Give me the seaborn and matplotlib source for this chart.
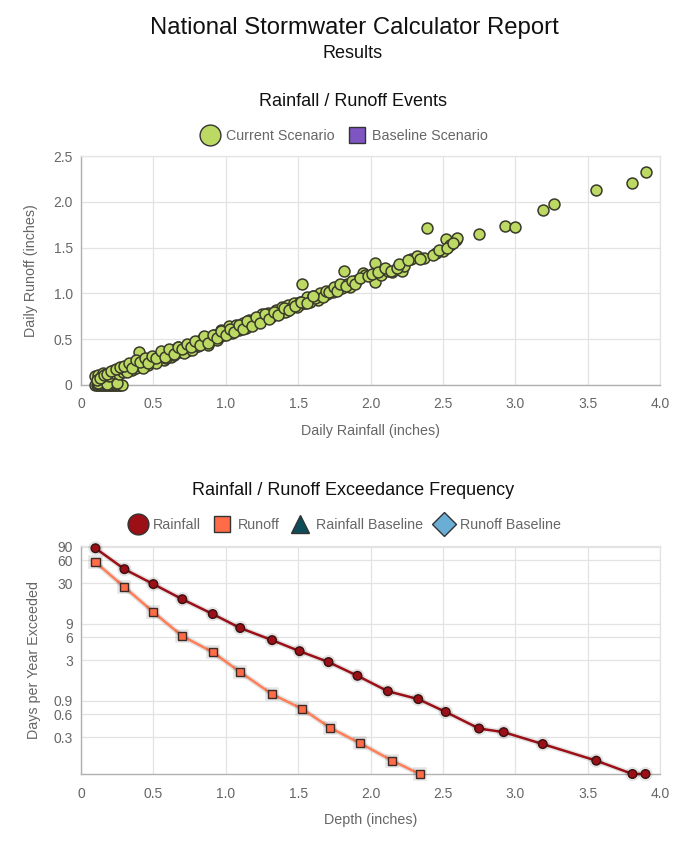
import matplotlib
matplotlib.use("Agg")
import matplotlib.pyplot as plt
import matplotlib.patheffects as pe
from matplotlib.lines import Line2D
from matplotlib.ticker import FixedLocator, FixedFormatter, NullLocator
import seaborn as sns
import pandas as pd

# ---------------- data ----------------
# Top chart: daily rainfall vs daily runoff (inches), current scenario
rain_events = [
    0.10, 0.11, 0.12, 0.13, 0.14, 0.15, 0.16, 0.17, 0.18, 0.19, 0.20, 0.21, 0.22, 0.23,
    0.24, 0.25, 0.26, 0.27, 0.28, 0.12, 0.18, 0.25,
    0.10, 0.12, 0.14, 0.15, 0.17, 0.19, 0.20, 0.22, 0.23, 0.25, 0.26, 0.28, 0.29, 0.30,
    0.31, 0.33, 0.34, 0.35, 0.36, 0.38, 0.39, 0.40, 0.41, 0.42, 0.44, 0.45, 0.46, 0.48,
    0.49, 0.50, 0.51, 0.53, 0.54, 0.56, 0.57, 0.58, 0.60, 0.61, 0.62, 0.63, 0.65, 0.66,
    0.68, 0.69, 0.70, 0.72, 0.73, 0.75, 0.76, 0.78, 0.79, 0.80, 0.82, 0.83, 0.85, 0.86,
    0.87, 0.88, 0.90, 0.91, 0.93, 0.95, 0.96, 0.98, 1.00, 1.01, 1.03, 1.05, 1.06, 1.08,
    1.10, 1.11, 1.13, 1.15, 1.17, 1.19, 1.20, 1.22, 1.24, 1.26, 1.28, 1.30, 1.32, 1.34,
    1.36, 1.38, 1.40, 1.42, 1.44, 1.46, 1.48, 1.50, 1.52, 1.53, 1.55, 1.57, 1.59, 1.61,
    1.63, 1.64, 1.66, 1.68, 1.70, 1.72, 1.74, 1.76, 1.78, 1.80, 1.81, 1.82, 1.84, 1.86,
    1.88, 1.91, 1.95, 1.96, 2.03, 2.03, 2.07, 2.12, 2.15, 2.22, 2.23, 2.28, 2.32, 2.37,
    2.39, 2.45, 2.50, 2.52, 2.55, 2.59, 2.60, 2.75, 2.93, 3.00, 3.19, 3.27, 3.56, 3.81,
    3.90,
    0.32, 0.37, 0.43, 0.47, 0.52, 0.55, 0.59, 0.64, 0.67, 0.71, 0.74, 0.77, 0.81, 0.84,
    0.89, 0.92, 0.94, 0.97, 0.99, 1.02, 1.04, 1.07, 1.09, 1.12, 1.14, 1.16, 1.18, 1.21,
    1.23, 1.25, 1.27, 1.29, 1.31, 1.33, 1.35, 1.37, 1.39, 1.41, 1.43, 1.45, 1.47, 1.49,
    1.51, 1.54, 1.56, 1.58, 1.60, 1.62, 1.65, 1.67, 1.69, 1.71, 1.75, 1.77, 1.79, 1.83,
    1.87, 1.89, 1.93, 1.98, 2.01, 2.05, 2.10, 2.14, 2.18, 2.20, 2.26, 2.34, 2.43, 2.47,
    2.53, 2.57,
    0.11, 0.13, 0.16, 0.18, 0.21, 0.24, 0.27, 0.30, 0.33, 0.35, 0.38, 0.41, 0.44, 0.46,
    0.49, 0.52, 0.55, 0.58, 0.61, 0.64, 0.67, 0.70, 0.73, 0.76, 0.79, 0.82, 0.85, 0.88,
    0.91, 0.94, 0.97, 1.00, 1.03, 1.06, 1.09, 1.12, 1.15, 1.18, 1.21, 1.24, 1.27, 1.30,
    1.33, 1.36, 1.40, 1.44, 1.48, 1.52, 1.56, 1.60,
]
runoff_events = [
    0.00, 0.00, 0.00, 0.00, 0.00, 0.00, 0.00, 0.00, 0.00, 0.00, 0.00, 0.00, 0.00, 0.00,
    0.00, 0.00, 0.00, 0.00, 0.00, 0.02, 0.01, 0.02,
    0.10, 0.11, 0.09, 0.13, 0.12, 0.10, 0.14, 0.13, 0.16, 0.15, 0.12, 0.17, 0.14, 0.18,
    0.16, 0.20, 0.17, 0.16, 0.21, 0.19, 0.23, 0.36, 0.21, 0.24, 0.22, 0.26, 0.22, 0.27,
    0.25, 0.30, 0.27, 0.29, 0.32, 0.30, 0.27, 0.34, 0.33, 0.36, 0.31, 0.38, 0.35, 0.37,
    0.36, 0.40, 0.38, 0.41, 0.37, 0.43, 0.40, 0.45, 0.42, 0.47, 0.45, 0.49, 0.47, 0.51,
    0.49, 0.44, 0.52, 0.50, 0.54, 0.52, 0.56, 0.57, 0.60, 0.58, 0.62, 0.59, 0.63, 0.61,
    0.65, 0.63, 0.67, 0.66, 0.69, 0.71, 0.68, 0.72, 0.74, 0.72, 0.76, 0.77, 0.76, 0.80,
    0.79, 0.82, 0.83, 0.81, 0.85, 0.87, 0.86, 0.89, 0.88, 1.10, 0.89, 0.93, 0.95, 0.94,
    0.97, 0.93, 0.98, 1.00, 0.99, 1.03, 1.02, 1.05, 1.07, 1.06, 1.09, 1.24, 1.10, 1.07,
    1.12, 1.15, 1.22, 1.20, 1.33, 1.12, 1.20, 1.25, 1.23, 1.25, 1.30, 1.38, 1.41, 1.39,
    1.71, 1.44, 1.46, 1.59, 1.53, 1.58, 1.60, 1.65, 1.74, 1.72, 1.91, 1.98, 2.13, 2.21,
    2.32,
    0.14, 0.24, 0.19, 0.29, 0.24, 0.35, 0.29, 0.33, 0.41, 0.35, 0.44, 0.38, 0.43, 0.51,
    0.48, 0.55, 0.49, 0.60, 0.55, 0.64, 0.57, 0.66, 0.60, 0.68, 0.62, 0.71, 0.66, 0.73,
    0.70, 0.77, 0.73, 0.79, 0.74, 0.78, 0.82, 0.77, 0.85, 0.80, 0.87, 0.84, 0.90, 0.85,
    0.91, 0.92, 0.96, 0.91, 0.97, 0.95, 1.00, 0.96, 1.03, 1.01, 1.07, 1.03, 1.10, 1.08,
    1.13, 1.10, 1.17, 1.19, 1.21, 1.23, 1.28, 1.24, 1.28, 1.32, 1.36, 1.38, 1.42, 1.47,
    1.50, 1.55,
    0.06, 0.08, 0.11, 0.12, 0.15, 0.17, 0.20, 0.21, 0.24, 0.19, 0.27, 0.25, 0.29, 0.24,
    0.32, 0.29, 0.37, 0.31, 0.39, 0.34, 0.42, 0.39, 0.45, 0.41, 0.48, 0.44, 0.53, 0.46,
    0.55, 0.51, 0.59, 0.55, 0.61, 0.58, 0.66, 0.61, 0.70, 0.64, 0.74, 0.68, 0.77, 0.72,
    0.80, 0.76, 0.84, 0.82, 0.86, 0.91, 0.90, 0.97,
]

# Bottom chart: exceedance frequency (days per year exceeded vs depth)
rain_depth = [0.10, 0.30, 0.50, 0.70, 0.91, 1.10, 1.32, 1.51, 1.71, 1.91, 2.12, 2.33,
              2.52, 2.75, 2.92, 3.19, 3.56, 3.81, 3.90]
rain_days = [86, 46, 29.4, 18.7, 12.0, 7.9, 5.5, 3.95, 2.85, 1.89, 1.19, 0.94,
             0.64, 0.39, 0.35, 0.245, 0.149, 0.10, 0.10]
runoff_depth = [0.10, 0.30, 0.50, 0.70, 0.91, 1.10, 1.32, 1.53, 1.72, 1.93, 2.15, 2.34]
runoff_days = [56.6, 26.9, 12.7, 6.2, 3.84, 2.11, 1.09, 0.70, 0.40, 0.25, 0.149, 0.10]

lin_ticks = [0, 0.5, 1.0, 1.5, 2.0, 2.5, 3.0, 3.5, 4.0]
lin_tick_labels = ["0", "0.5", "1.0", "1.5", "2.0", "2.5", "3.0", "3.5", "4.0"]
runoff_ticks = [0, 0.5, 1.0, 1.5, 2.0, 2.5]
runoff_tick_labels = ["0", "0.5", "1.0", "1.5", "2.0", "2.5"]
days_ticks = [0.3, 0.6, 0.9, 3, 6, 9, 30, 60, 90]
days_tick_labels = ["0.3", "0.6", "0.9", "3", "6", "9", "30", "60", "90"]

# ---------------- style ----------------
sns.set_theme(style="whitegrid")
plt.rcParams["font.family"] = ["Liberation Sans", "DejaVu Sans"]

GRID = "#e3e3e3"
AXIS = "#b0b0b0"
TXT = "#666666"
GREEN = "#bcd964"
PURPLE = "#7e55c3"
RAIN = "#9c0f16"
RUNOFF = "#ff6c47"
RUNOFF_LINE = "#ff7e57"
TEAL = "#0d4c58"
LBLUE = "#6aaed6"

W, H = 689, 841
fig = plt.figure(figsize=(W / 100, H / 100), dpi=100)

def fy(py):
    return 1 - py / H

ax1 = fig.add_axes([81 / W, fy(385), (660 - 81) / W, (385 - 156) / H])
ax2 = fig.add_axes([81 / W, fy(774), (660 - 81) / W, (774 - 546) / H])

# ---------------- top scatter ----------------
ev = pd.DataFrame({"rain": rain_events, "runoff": runoff_events})
sns.scatterplot(data=ev, x="rain", y="runoff", ax=ax1, s=62, color=GREEN,
                edgecolor="#3a3a2a", linewidth=1.1, legend=False, zorder=3, clip_on=False)
ax1.set_xlim(0, 4.0)
ax1.set_ylim(0, 2.5)
ax1.xaxis.set_major_locator(FixedLocator(lin_ticks))
ax1.xaxis.set_major_formatter(FixedFormatter(lin_tick_labels))
ax1.yaxis.set_major_locator(FixedLocator(runoff_ticks))
ax1.yaxis.set_major_formatter(FixedFormatter(runoff_tick_labels))
ax1.set_xlabel("Daily Rainfall (inches)", color=TXT, fontsize=10.3, labelpad=9)
ax1.set_ylabel("Daily Runoff (inches)", color=TXT, fontsize=10.3, labelpad=11)

# ---------------- bottom lines ----------------
rf = pd.DataFrame({"depth": rain_depth, "days": rain_days})
ro = pd.DataFrame({"depth": runoff_depth, "days": runoff_days})
shadow = [pe.Stroke(linewidth=4, foreground="#000000", alpha=0.10), pe.Normal()]
sns.lineplot(data=ro, x="depth", y="days", ax=ax2, color=RUNOFF_LINE, linewidth=1.8,
             marker="s", markersize=5.8, markerfacecolor=RUNOFF, markeredgecolor="#3b2a26",
             markeredgewidth=1.0, path_effects=shadow, zorder=3, clip_on=False)
sns.lineplot(data=rf, x="depth", y="days", ax=ax2, color=RAIN, linewidth=1.8,
             marker="o", markersize=6.2, markerfacecolor=RAIN, markeredgecolor="#3a1010",
             markeredgewidth=1.0, path_effects=shadow, zorder=4, clip_on=False)
ax2.set_yscale("log")
ax2.set_xlim(0, 4.0)
ax2.set_ylim(0.1, 92)
ax2.xaxis.set_major_locator(FixedLocator(lin_ticks))
ax2.xaxis.set_major_formatter(FixedFormatter(lin_tick_labels))
ax2.yaxis.set_major_locator(FixedLocator(days_ticks))
ax2.yaxis.set_major_formatter(FixedFormatter(days_tick_labels))
ax2.yaxis.set_minor_locator(NullLocator())
ax2.set_xlabel("Depth (inches)", color=TXT, fontsize=10.3, labelpad=9)
ax2.set_ylabel("Days per Year Exceeded", color=TXT, fontsize=10.3, labelpad=9)

for ax in (ax1, ax2):
    ax.set_facecolor("white")
    ax.grid(True, color=GRID, linewidth=0.9)
    ax.set_axisbelow(True)
    for side in ("top", "right"):
        ax.spines[side].set_color(GRID)
        ax.spines[side].set_linewidth(0.9)
    for side in ("left", "bottom"):
        ax.spines[side].set_color(AXIS)
        ax.spines[side].set_linewidth(1.0)
    ax.tick_params(axis="both", colors=TXT, labelsize=10, labelcolor=TXT)
    ax.tick_params(axis="x", length=5, width=0.8, color=GRID, pad=4, direction="out")
    ax.tick_params(axis="y", length=0, pad=6)

# ---------------- titles ----------------
fig.text(0.515, fy(28), "National Stormwater Calculator Report", ha="center", va="center",
         fontsize=17.2, color="#111111")
fig.text(0.511, fy(53), "Results", ha="center", va="center", fontsize=13, color="#111111")
fig.text(0.512, fy(101), "Rainfall / Runoff Events", ha="center", va="center",
         fontsize=13, color="#111111")
fig.text(0.512, fy(490), "Rainfall / Runoff Exceedance Frequency", ha="center",
         va="center", fontsize=13, color="#111111")

# ---------------- legends ----------------
h1 = [
    Line2D([], [], linestyle="none", marker="o", markersize=15, markerfacecolor=GREEN,
           markeredgecolor="#333333", markeredgewidth=1.0),
    Line2D([], [], linestyle="none", marker="s", markersize=11, markerfacecolor=PURPLE,
           markeredgecolor="#333333", markeredgewidth=1.0),
]
fig.legend(h1, ["Current Scenario", "Baseline Scenario"], loc="center",
           bbox_to_anchor=(0.50, fy(136)), ncol=2, frameon=False, fontsize=10.3,
           handletextpad=0.45, columnspacing=0.9, handlelength=1.3, labelcolor=TXT)
h2 = [
    Line2D([], [], linestyle="none", marker="o", markersize=15, markerfacecolor=RAIN,
           markeredgecolor="#333333", markeredgewidth=1.0),
    Line2D([], [], linestyle="none", marker="s", markersize=11, markerfacecolor=RUNOFF,
           markeredgecolor="#333333", markeredgewidth=1.0),
    Line2D([], [], linestyle="none", marker="^", markersize=13, markerfacecolor=TEAL,
           markeredgecolor="#333333", markeredgewidth=1.0),
    Line2D([], [], linestyle="none", marker="D", markersize=12, markerfacecolor=LBLUE,
           markeredgecolor="#333333", markeredgewidth=1.0),
]
fig.legend(h2, ["Rainfall", "Runoff", "Rainfall Baseline", "Runoff Baseline"], loc="center",
           bbox_to_anchor=(0.50, fy(525)), ncol=4, frameon=False, fontsize=10.3,
           handletextpad=0.45, columnspacing=0.8, handlelength=1.3, labelcolor=TXT)

fig.savefig("out.png", dpi=100, facecolor="white")
